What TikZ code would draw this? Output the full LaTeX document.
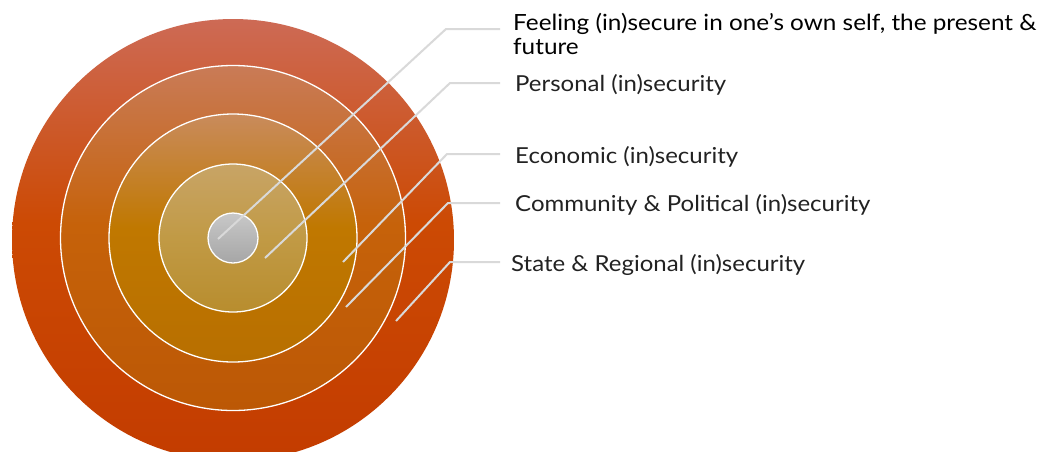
\documentclass[tikz,border=0pt]{standalone}
\usepackage{fontspec}
\setmainfont{Lato}[FakeStretch=1.09]
\definecolor{leader}{HTML}{D9D9D9}
\definecolor{labeltext}{HTML}{222222}
\definecolor{o1t}{HTML}{CD6A55}\definecolor{o1m}{HTML}{CC4A04}\definecolor{o1b}{HTML}{C33C00}
\definecolor{o2t}{HTML}{C97B57}\definecolor{o2m}{HTML}{C6620A}\definecolor{o2b}{HTML}{BC5805}
\definecolor{o3t}{HTML}{C98B5C}\definecolor{o3m}{HTML}{C07800}\definecolor{o3b}{HTML}{B86F00}
\definecolor{o4t}{HTML}{C8A466}\definecolor{o4m}{HTML}{C19A45}\definecolor{o4b}{HTML}{B88D2E}
\definecolor{g5t}{HTML}{C8C8C8}\definecolor{g5b}{HTML}{A6A6A6}
\pgfdeclareverticalshading{shOuter}{100bp}{color(0bp)=(o1b); color(25bp)=(o1b); color(52bp)=(o1m); color(75bp)=(o1t); color(100bp)=(o1t)}
\pgfdeclareverticalshading{shRingA}{100bp}{color(0bp)=(o2b); color(25bp)=(o2b); color(52bp)=(o2m); color(75bp)=(o2t); color(100bp)=(o2t)}
\pgfdeclareverticalshading{shRingB}{100bp}{color(0bp)=(o3b); color(25bp)=(o3b); color(52bp)=(o3m); color(75bp)=(o3t); color(100bp)=(o3t)}
\pgfdeclareverticalshading{shRingC}{100bp}{color(0bp)=(o4b); color(25bp)=(o4b); color(50bp)=(o4m); color(75bp)=(o4t); color(100bp)=(o4t)}
\pgfdeclareverticalshading{shCore}{100bp}{color(0bp)=(g5b); color(25bp)=(g5b); color(75bp)=(g5t); color(100bp)=(g5t)}
\tikzset{
  ring/.style={draw=white, line width=1.3pt},
  leaderline/.style={draw=leader, line width=2pt},
  lbl/.style={anchor=base west, inner sep=0pt, text=labeltext, font=\fontsize{22}{22}\selectfont},
}
\begin{document}
\begin{tikzpicture}[x=1pt,y=-1pt]
\useasboundingbox (0,0) rectangle (1040,451);
\fill[white] (0,0) rectangle (1040,451);
% circles
\shade[shading=shOuter] (233,240) circle[radius=221pt];
\shade[ring, shading=shRingA] (233,238) circle[radius=172.5pt];
\shade[ring, shading=shRingB] (233,238) circle[radius=124pt];
\shade[ring, shading=shRingC] (233,238) circle[radius=74pt];
\shade[ring, shading=shCore] (233,238) circle[radius=25pt];
% start points
\coordinate (s1) at (218,239);
\coordinate (s2) at (265,258);
\coordinate (s3) at (343,262);
\coordinate (s4) at (346,307);
\coordinate (s5) at (396,321);
% bends
\coordinate (k1) at (446,29);
\coordinate (k2) at (450,83);
\coordinate (k3) at (447,154);
\coordinate (k4) at (448,203);
\coordinate (k5) at (450,262);
% ends
\coordinate (e1) at (500,29);
\coordinate (e2) at (500,83);
\coordinate (e3) at (500,154);
\coordinate (e4) at (500,203);
\coordinate (e5) at (500,262);
% labels
\node[lbl, text=black, align=left, anchor=north west, font=\fontsize{22.3}{24}\selectfont] (t1) at (513,13) {Feeling (in)secure in one’s own self, the present \&\\future};
\node[lbl] (t2) at (515,91.5) {Personal (in)security};
\node[lbl] (t3) at (515,163) {Economic (in)security};
\node[lbl] (t4) at (515,211.5) {Community \& Political (in)security};
\node[lbl] (t5) at (511,271) {State \& Regional (in)security};
% leaders
\draw[leaderline] (s1) -- (k1) -- (e1);
\draw[leaderline] (s2) -- (k2) -- (e2);
\draw[leaderline] (s3) -- (k3) -- (e3);
\draw[leaderline] (s4) -- (k4) -- (e4);
\draw[leaderline] (s5) -- (k5) -- (e5);
\end{tikzpicture}
\end{document}
